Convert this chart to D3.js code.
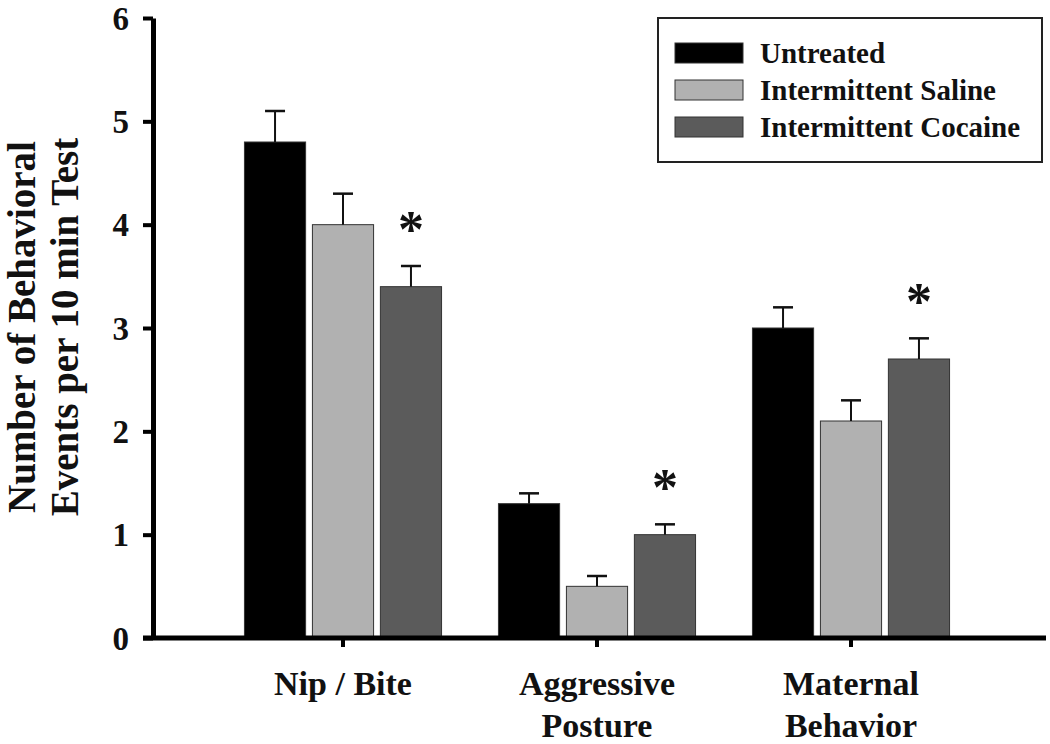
<!DOCTYPE html>
<html><head><meta charset="utf-8">
<script src="https://cdn.jsdelivr.net/npm/d3@7"></script>
<style>body{margin:0;background:#fff}svg{display:block}text{font-family:"Liberation Serif","Times New Roman",serif;font-weight:bold;fill:#111}</style>
</head><body><svg id="c" width="1050" height="744"></svg>
<script>
const categories = ["Nip / Bite", "Aggressive Posture", "Maternal Behavior"];
const categoryLines = [["Nip / Bite"], ["Aggressive", "Posture"], ["Maternal", "Behavior"]];
const seriesNames = ["Untreated", "Intermittent Saline", "Intermittent Cocaine"];
const untreated = [4.8, 1.3, 3.0];
const untreatedErr = [0.3, 0.1, 0.2];
const saline = [4.0, 0.5, 2.1];
const salineErr = [0.3, 0.1, 0.2];
const cocaine = [3.4, 1.0, 2.7];
const cocaineErr = [0.2, 0.1, 0.2];
const cocaineSignificant = [true, true, true];
const yTicks = [0, 1, 2, 3, 4, 5, 6];
const colors = ["#000000", "#b1b1b1", "#5b5b5b"];

const seriesVals = [untreated, saline, cocaine];
const seriesErrs = [untreatedErr, salineErr, cocaineErr];
const rows = [];
categories.forEach((c, i) => seriesNames.forEach((s, j) => rows.push({cat: c, ser: s, j, v: seriesVals[j][i], e: seriesErrs[j][i], sig: j === 2 && cocaineSignificant[i]})));

const svg = d3.select("#c");
const y = d3.scaleLinear().domain([0, 6]).range([638, 18]);
const x = d3.scaleBand().domain(categories).range([216, 978]).paddingInner(0.224).paddingOuter(0.112);
const xs = d3.scaleBand().domain(seriesNames).range([0, x.bandwidth()]).paddingInner(0.1);
const color = d3.scaleOrdinal().domain(seriesNames).range(colors);

// bars
svg.append("g").selectAll("rect").data(rows).join("rect")
  .attr("x", d => x(d.cat) + xs(d.ser))
  .attr("y", d => y(d.v))
  .attr("width", xs.bandwidth())
  .attr("height", d => y(0) - y(d.v))
  .attr("fill", d => color(d.ser))
  .attr("stroke", "#333").attr("stroke-width", 1);

// error bars
const eg = svg.append("g").attr("stroke", "#111");
rows.forEach(d => {
  const cx = x(d.cat) + xs(d.ser) + xs.bandwidth() / 2;
  eg.append("line").attr("x1", cx).attr("x2", cx).attr("y1", y(d.v)).attr("y2", y(d.v + d.e)).attr("stroke-width", 2);
  eg.append("line").attr("x1", cx - 10).attr("x2", cx + 10).attr("y1", y(d.v + d.e)).attr("y2", y(d.v + d.e)).attr("stroke-width", 2.5);
});

// significance asterisks
svg.append("g").selectAll("text").data(rows.filter(d => d.sig)).join("text")
  .attr("x", d => x(d.cat) + xs(d.ser) + xs.bandwidth() / 2)
  .attr("y", d => y(d.v + d.e) - 19)
  .attr("text-anchor", "middle").attr("font-size", 52).text("*");

// y axis
const ya = svg.append("g").attr("transform", "translate(153,0)")
  .call(d3.axisLeft(y).tickValues(yTicks).tickSize(10).tickSizeOuter(0).tickPadding(14).tickFormat(d3.format("d")));
ya.select(".domain").attr("stroke", "#000").attr("stroke-width", 5);
ya.selectAll(".tick line").attr("stroke", "#000").attr("stroke-width", 4);
ya.selectAll(".tick text").attr("font-size", 33).attr("font-family", null).attr("dy", "0.34em");

// x axis
const xa = svg.append("g").attr("transform", "translate(0,638)")
  .call(d3.axisBottom(x).tickSize(9).tickSizeOuter(0).tickFormat(""));
xa.select(".domain").remove();
xa.selectAll(".tick line").attr("stroke", "#000").attr("stroke-width", 4);
svg.append("line").attr("x1", 143).attr("x2", 1046).attr("y1", 638).attr("y2", 638).attr("stroke", "#000").attr("stroke-width", 5);

// x labels
const xl = svg.append("g");
categories.forEach((c, i) => {
  const t = xl.append("text").attr("x", x(c) + x.bandwidth() / 2).attr("y", 695).attr("text-anchor", "middle").attr("font-size", 34);
  categoryLines[i].forEach((ln, k) => t.append("tspan").attr("x", x(c) + x.bandwidth() / 2).attr("y", 695 + k * 42).text(ln));
});

// y title
const yt = svg.append("text").attr("transform", "translate(0,327) rotate(-90)").attr("text-anchor", "middle").attr("font-size", 39);
yt.append("tspan").attr("x", 0).attr("y", 35).text("Number of Behavioral");
yt.append("tspan").attr("x", 0).attr("y", 78).text("Events per 10 min Test");

// legend
const lg = svg.append("g");
lg.append("rect").attr("x", 658).attr("y", 18).attr("width", 384).attr("height", 144).attr("fill", "#fff").attr("stroke", "#222").attr("stroke-width", 2);
seriesNames.forEach((s, i) => {
  const cy = 53 + i * 37;
  lg.append("rect").attr("x", 675).attr("y", cy - 10).attr("width", 68).attr("height", 20).attr("fill", color(s)).attr("stroke", "#333").attr("stroke-width", 1);
  lg.append("text").attr("x", 760).attr("y", cy + 10).attr("font-size", 29).text(s);
});
</script></body></html>
